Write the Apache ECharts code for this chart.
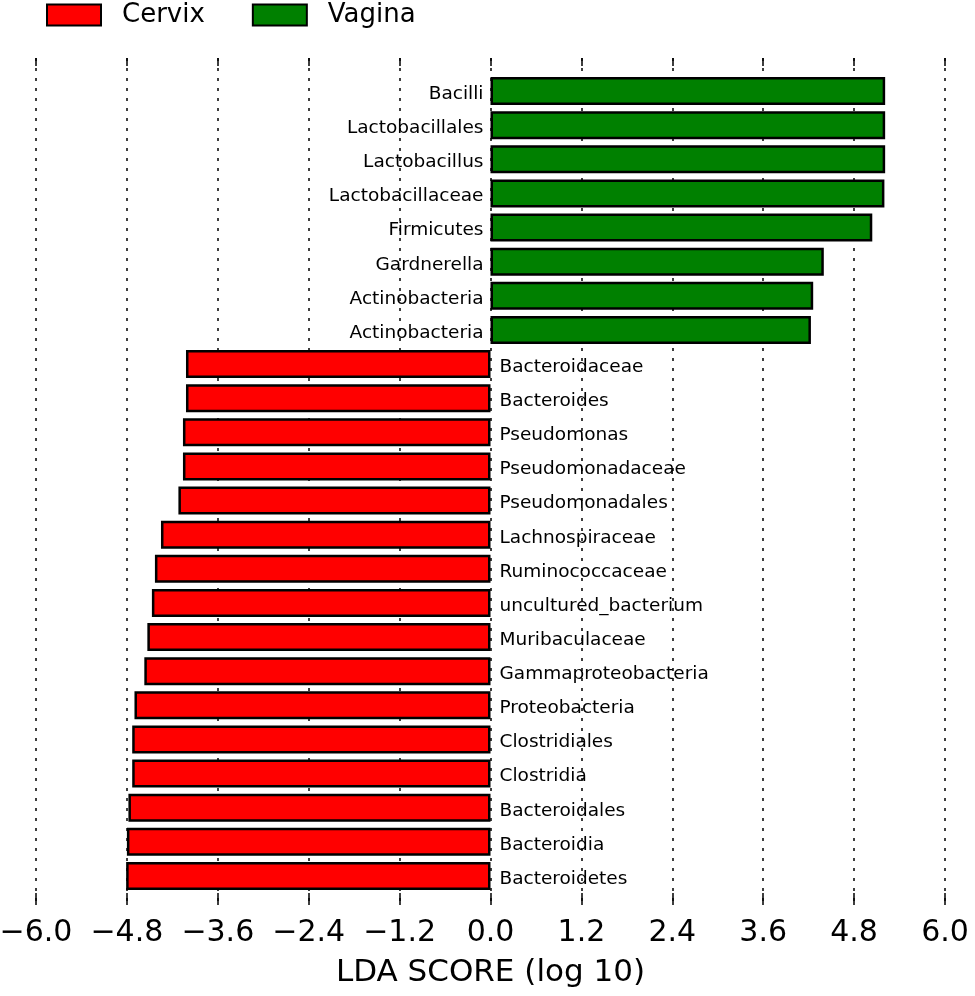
<!DOCTYPE html>
<html>
<head>
<meta charset="utf-8">
<script src="https://cdn.jsdelivr.net/npm/echarts@6/dist/echarts.min.js"></script>
<style>
  html, body { margin: 0; padding: 0; background: #fff; }
  #main { width: 975px; height: 996px; }
</style>
</head>
<body>
<div id="main"></div>
<script>
// taxa, top to bottom
var taxa = ['Bacilli', 'Lactobacillales', 'Lactobacillus', 'Lactobacillaceae',
	'Firmicutes', 'Gardnerella', 'Actinobacteria', 'Actinobacteria ',
	'Bacteroidaceae', 'Bacteroides', 'Pseudomonas', 'Pseudomonadaceae',
	'Pseudomonadales', 'Lachnospiraceae', 'Ruminococcaceae',
	'uncultured_bacterium', 'Muribaculaceae', 'Gammaproteobacteria',
	'Proteobacteria', 'Clostridiales', 'Clostridia', 'Bacteroidales',
	'Bacteroidia', 'Bacteroidetes'];
// LDA scores (Vagina enriched, positive)
var vaginaScores = [5.21, 5.21, 5.21, 5.20, 5.04, 4.40, 4.26, 4.23];
// LDA scores (Cervix enriched, drawn negative)
var cervixScores = [4.02, 4.02, 4.06, 4.06, 4.12, 4.35, 4.43, 4.47, 4.53,
	4.57, 4.70, 4.73, 4.73, 4.78, 4.80, 4.81];
var xTicks = { min: -6, max: 6, interval: 1.2 };

var font = 'DejaVu Sans';
var nV = vaginaScores.length;

var greenData = [];
var redData = [];
for (var i = 0; i < taxa.length; i++) {
	if (i < nV) {
		greenData.push(vaginaScores[i]);
		redData.push('-');
	} else {
		greenData.push('-');
		redData.push(-cervixScores[i - nV]);
	}
}

function fmtTick(v) {
	var s = Math.abs(v).toFixed(1);
	return (v < -1e-9 ? '\u2212' : '') + s;
}

var myChart = echarts.init(document.getElementById('main'));
var option = {
	backgroundColor: '#fff',
	animation: false,
	textStyle: { fontFamily: font },
	legend: {
		data: ['Cervix', 'Vagina'],
		icon: 'rect',
		left: 46,
		top: 2,
		padding: 0,
		itemWidth: 54,
		itemHeight: 21,
		itemGap: 47,
		textStyle: {
			fontFamily: font,
			fontSize: 26,
			color: '#000',
			padding: [0, 0, 0, 16]
		}
	},
	grid: [
		{ left: 36, right: 30, top: 74, bottom: 103, outerBoundsMode: 'none', containLabel: false },
		{ left: 36, right: 30, top: 58, bottom: 91, outerBoundsMode: 'none', containLabel: false }
	],
	xAxis: [ {
		gridIndex: 0,
		type: 'value',
		min: xTicks.min,
		max: xTicks.max,
		interval: xTicks.interval,
		show: false
	}, {
		gridIndex: 1,
		type: 'value',
		position: 'bottom',
		min: xTicks.min,
		max: xTicks.max,
		interval: xTicks.interval,
		axisLine: { show: false },
		axisTick: {
			show: true,
			inside: true,
			length: 12,
			lineStyle: { color: '#000', width: 1.5 }
		},
		axisLabel: {
			color: '#000',
			fontFamily: font,
			fontSize: 30,
			margin: 13,
			formatter: fmtTick
		},
		splitLine: {
			show: true,
			lineStyle: { color: '#000', width: 1.5, type: [3, 7] }
		},
		name: 'LDA SCORE (log 10)',
		nameLocation: 'middle',
		nameGap: 52,
		nameTextStyle: { color: '#000', fontFamily: font, fontSize: 31 }
	}, {
		gridIndex: 1,
		type: 'value',
		position: 'top',
		min: xTicks.min,
		max: xTicks.max,
		interval: xTicks.interval,
		axisLine: { show: false },
		axisTick: {
			show: true,
			inside: true,
			length: 8,
			lineStyle: { color: '#000', width: 1.5 }
		},
		axisLabel: { show: false },
		splitLine: { show: false }
	} ],
	yAxis: [ {
		gridIndex: 0,
		type: 'category',
		inverse: true,
		data: taxa,
		axisLine: { show: false },
		axisTick: { show: false },
		axisLabel: { show: false },
		splitLine: { show: false }
	}, {
		gridIndex: 1,
		type: 'value',
		min: 0,
		max: 1,
		show: false
	} ],
	series: [ {
		name: 'Cervix',
		type: 'bar',
		xAxisIndex: 0,
		yAxisIndex: 0,
		data: redData,
		barWidth: 28,
		barGap: '-100%',
		itemStyle: { color: '#ff0000', borderColor: '#000', borderWidth: 2.5 },
		label: {
			show: true,
			position: 'right',
			distance: 9,
			offset: [0, 3],
			color: '#000',
			fontFamily: font,
			fontSize: 18.5,
			formatter: function(p) { return p.name.trim(); }
		}
	}, {
		name: 'Vagina',
		type: 'bar',
		xAxisIndex: 0,
		yAxisIndex: 0,
		data: greenData,
		barWidth: 28,
		barGap: '-100%',
		itemStyle: { color: '#008000', borderColor: '#000', borderWidth: 2.5 },
		label: {
			show: true,
			position: 'left',
			distance: 7,
			offset: [0, 3],
			color: '#000',
			fontFamily: font,
			fontSize: 18.5,
			formatter: function(p) { return p.name.trim(); }
		}
	} ]
};
myChart.setOption(option);
</script>
</body>
</html>
